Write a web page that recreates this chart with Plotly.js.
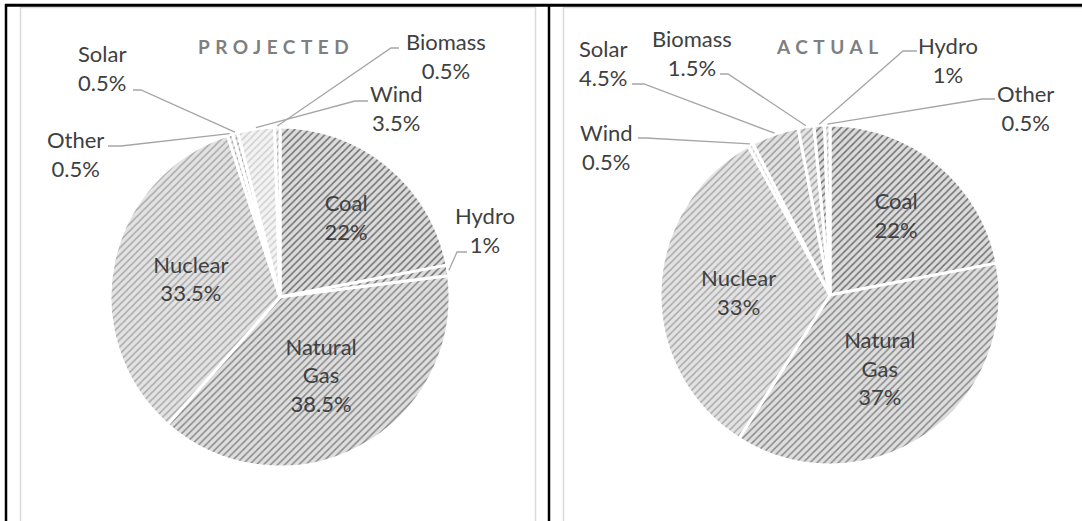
<!DOCTYPE html>
<html><head><meta charset="utf-8">
<script src="https://cdn.plot.ly/plotly-3.0.1.min.js"></script>
<style>html,body{margin:0;padding:0;background:#fff}#chart{width:1082px;height:521px}</style>
</head><body><div id="chart"></div>
<script>
// ---- data ----
const projLabels = ['Coal', 'Hydro', 'Natural Gas', 'Nuclear', 'Other', 'Solar', 'Wind', 'Biomass'];
const projValues = [22, 1, 38.5, 33.5, 0.5, 0.5, 3.5, 0.5];
const actLabels = ['Coal', 'Natural Gas', 'Nuclear', 'Wind', 'Solar', 'Biomass', 'Hydro', 'Other'];
const actValues = [22, 37, 33, 0.5, 4.5, 1.5, 1, 0.5];
const chartTitles = ['PROJECTED', 'ACTUAL'];
const insideLabels = ['Coal', 'Natural Gas', 'Nuclear'];

// ---- styles ----
const W = 1082, H = 521;
const FONT = 'Lato, "Open Sans", sans-serif';
const TXT = '#404040';
const fgMap = {'Coal':'#717171','Hydro':'#747474','Natural Gas':'#8a8a8a','Nuclear':'#aaaaaa','Wind':'#d0d0d0','Solar':'#9c9c9c','Biomass':'#a4a4a4','Other':'#a4a4a4'};
const bgMap = {'Coal':'#dcdcdc','Hydro':'#dcdcdc','Natural Gas':'#dedede','Nuclear':'#e3e3e3','Wind':'#f3f3f3','Solar':'#e2e2e2','Biomass':'#e6e6e6','Other':'#e6e6e6'};

const pies = [
  {labels: projLabels, values: projValues, cx: 280, cy: 297, r: 170, title: chartTitles[0], tx: 276, ty: 46,
   callouts: {
     'Solar':   {x: 102, y: 68,  a: [133, 90],  b: [141, 90]},
     'Biomass': {x: 446, y: 56,  a: [399, 48],  b: [391, 48]},
     'Wind':    {x: 396, y: 108, a: [368, 101], b: [355, 101]},
     'Other':   {x: 75,  y: 154, a: [108, 146], b: [121, 146]},
     'Hydro':   {x: 485, y: 230, a: [467, 252], b: [457, 252]}
   }},
  {labels: actLabels, values: actValues, cx: 830, cy: 295, r: 170, title: chartTitles[1], tx: 830, ty: 46,
   callouts: {
     'Solar':   {x: 603, y: 63,  a: [632, 84],  b: [644, 84]},
     'Biomass': {x: 692, y: 53,  a: [720, 74],  b: [728, 74]},
     'Hydro':   {x: 948, y: 60,  a: [917, 51],  b: [903, 51]},
     'Other':   {x: 1025, y: 108, a: [995, 99], b: [982, 99]},
     'Wind':    {x: 606, y: 147, a: [638, 138], b: [646, 138]}
   }}
];

const px = v => v / W;
const py = v => 1 - v / H;

const traces = [], annotations = [], shapes = [];

pies.forEach(p => {
  const total = p.values.reduce((s, v) => s + v, 0);
  traces.push({
    type: 'pie', labels: p.labels, values: p.values, sort: false, direction: 'clockwise', rotation: 0,
    domain: {x: [px(p.cx - p.r), px(p.cx + p.r)], y: [py(p.cy + p.r), py(p.cy - p.r)]},
    text: p.labels.map((l, i) => insideLabels.includes(l) ? l.replace(' ', '<br>') + '<br>' + p.values[i] + '%' : ''),
    textinfo: 'text', textposition: 'inside', insidetextorientation: 'horizontal',
    insidetextfont: {family: FONT, size: 22, color: TXT},
    marker: {
      colors: p.labels.map(l => bgMap[l]),
      line: {color: '#ffffff', width: 3},
      pattern: {shape: '/', fgcolor: p.labels.map(l => fgMap[l]), size: 5, solidity: 0.3, fillmode: 'replace',
                bgcolor: p.labels.map(l => bgMap[l])}
    },
    hoverinfo: 'label+value', showlegend: false
  });
  // callouts for small slices
  let cum = 0;
  p.labels.forEach((l, i) => {
    const mid = (cum + p.values[i] / 2) / total * 2 * Math.PI;
    cum += p.values[i];
    const c = p.callouts[l];
    if (!c) return;
    const ex = p.cx + (p.r + 1) * Math.sin(mid), ey = p.cy - (p.r + 1) * Math.cos(mid);
    annotations.push({xref: 'paper', yref: 'paper', x: px(c.x), y: py(c.y), xanchor: 'center', yanchor: 'middle',
      text: l + '<br>' + p.values[i] + '%', showarrow: false, font: {family: FONT, size: 22, color: TXT}});
    shapes.push({type: 'path', xref: 'paper', yref: 'paper', layer: 'above',
      path: `M ${px(c.a[0])},${py(c.a[1])} L ${px(c.b[0])},${py(c.b[1])} L ${px(ex)},${py(ey)}`,
      line: {color: '#a6a6a6', width: 1.3}});
  });
  annotations.push({xref: 'paper', yref: 'paper', x: px(p.tx), y: py(p.ty), xanchor: 'center', yanchor: 'middle',
    text: '<span style="letter-spacing:5.5px"><b>' + p.title + '</b></span>', showarrow: false,
    font: {family: FONT, size: 19, color: '#7f7f7f'}});
});

// frames
shapes.push({type: 'rect', xref: 'paper', yref: 'paper', x0: px(20.5), x1: px(535.5), y0: py(530), y1: py(7.5), line: {color: '#d9d9d9', width: 1.5}, layer: 'below'});
shapes.push({type: 'rect', xref: 'paper', yref: 'paper', x0: px(563.5), x1: px(1095), y0: py(530), y1: py(7.5), line: {color: '#d9d9d9', width: 1.5}, layer: 'below'});
shapes.push({type: 'line', xref: 'paper', yref: 'paper', x0: px(5), x1: px(1082), y0: py(5.2), y1: py(5.2), line: {color: '#000', width: 3}});
shapes.push({type: 'line', xref: 'paper', yref: 'paper', x0: px(6), x1: px(6), y0: py(4), y1: py(521), line: {color: '#000', width: 2.5}});
shapes.push({type: 'line', xref: 'paper', yref: 'paper', x0: px(549), x1: px(549), y0: py(4), y1: py(521), line: {color: '#000', width: 2.5}});

Plotly.newPlot('chart', traces, {
  width: W, height: H, margin: {l: 0, r: 0, t: 0, b: 0},
  paper_bgcolor: '#ffffff', plot_bgcolor: '#ffffff',
  font: {family: FONT, color: TXT},
  annotations: annotations, shapes: shapes, showlegend: false
}, {displayModeBar: false, staticPlot: true});
</script>
</body></html>
